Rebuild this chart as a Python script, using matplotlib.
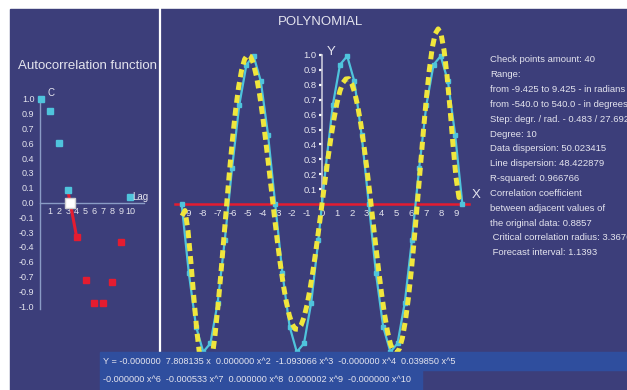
import matplotlib
matplotlib.use('Agg')
import matplotlib.pyplot as plt
from matplotlib.lines import Line2D
from matplotlib.patches import Rectangle
from matplotlib.ticker import FuncFormatter

plt.rcParams['font.family'] = ['Liberation Sans', 'DejaVu Sans']
plt.rcParams['axes.unicode_minus'] = False

# check points (x in radians) and the original data
pts_x = [-9.425, -8.942, -8.458, -7.975, -7.492, -7.008, -6.525, -6.042, -5.558, -5.075,
         -4.592, -4.108, -3.625, -3.142, -2.658, -2.175, -1.692, -1.208, -0.725, -0.242,
         0.242, 0.725, 1.208, 1.692, 2.175, 2.658, 3.142, 3.625, 4.108, 4.592,
         5.075, 5.558, 6.042, 6.525, 7.008, 7.492, 7.975, 8.458, 8.942, 9.425]
pts_y = [0.000, -0.465, -0.823, -0.993, -0.935, -0.663, -0.239, 0.239, 0.663, 0.935,
         0.993, 0.823, 0.465, 0.000, -0.465, -0.823, -0.993, -0.935, -0.663, -0.239,
         0.239, 0.663, 0.935, 0.993, 0.823, 0.465, 0.000, -0.465, -0.823, -0.993,
         -0.935, -0.663, -0.239, 0.239, 0.663, 0.935, 0.993, 0.823, 0.465, 0.000]

# polynomial line (degree 10)
fit_x = [-9.4, -9.2, -9.0, -8.8, -8.6, -8.4, -8.2, -8.0, -7.8, -7.6, -7.4, -7.2, -7.0, -6.8, -6.6, -6.4,
         -6.2, -6.0, -5.8, -5.6, -5.4, -5.2, -5.0, -4.8, -4.6, -4.4, -4.2, -4.0, -3.8, -3.6, -3.4, -3.2,
         -3.0, -2.8, -2.6, -2.4, -2.2, -2.0, -1.8, -1.6, -1.4, -1.2, -1.0, -0.8, -0.6, -0.4, -0.2, 0.0,
         0.2, 0.4, 0.6, 0.8, 1.0, 1.2, 1.4, 1.6, 1.8, 2.0, 2.2, 2.4, 2.6, 2.8, 3.0, 3.2,
         3.4, 3.6, 3.8, 4.0, 4.2, 4.4, 4.6, 4.8, 5.0, 5.2, 5.4, 5.6, 5.8, 6.0, 6.2, 6.4,
         6.6, 6.8, 7.0, 7.2, 7.4, 7.6, 7.8, 8.0, 8.2, 8.4, 8.6, 8.8, 9.0, 9.2, 9.4]
fit_y = [-0.080, -0.044, -0.178, -0.396, -0.637, -0.858, -1.030, -1.138, -1.175, -1.142, -1.045, -0.894,
         -0.700, -0.478, -0.240, 0.001, 0.233, 0.446, 0.632, 0.785, 0.898, 0.971, 1.001, 0.990,
         0.941, 0.856, 0.741, 0.601, 0.442, 0.272, 0.096, -0.080, -0.248, -0.403, -0.541, -0.656,
         -0.746, -0.807, -0.839, -0.841, -0.813, -0.757, -0.675, -0.569, -0.445, -0.305, -0.155, 0.000,
         0.155, 0.305, 0.445, 0.569, 0.675, 0.757, 0.813, 0.839, 0.841, 0.807, 0.746, 0.656,
         0.541, 0.403, 0.248, 0.080, -0.096, -0.272, -0.442, -0.601, -0.741, -0.856, -0.941, -0.990,
         -1.001, -0.971, -0.898, -0.785, -0.632, -0.446, -0.233, -0.001, 0.240, 0.478, 0.700, 0.894,
         1.045, 1.142, 1.175, 1.138, 1.030, 0.858, 0.637, 0.396, 0.178, 0.044, 0.080]

# autocorrelation function
lags = [0, 1, 2, 3, 4, 5, 6, 7, 8, 9, 10]
acf = [1.0, 0.886, 0.57, 0.124, -0.33, -0.747, -0.968, -0.972, -0.762, -0.38, 0.05]

info = ["Check points amount: 40",
        "Range:",
        "from -9.425 to 9.425 - in radians",
        "from -540.0 to 540.0 - in degrees",
        "Step: degr. / rad. - 0.483 / 27.692",
        "Degree: 10",
        "Data dispersion: 50.023415",
        "Line dispersion: 48.422879",
        "R-squared: 0.966766",
        "Correlation coefficient",
        "between adjacent values of",
        "the original data: 0.8857",
        " Critical correlation radius: 3.3676",
        " Forecast interval: 1.1393"]

formula = ["Y = -0.000000  7.808135 x  0.000000 x^2  -1.093066 x^3  -0.000000 x^4  0.039850 x^5",
           "-0.000000 x^6  -0.000533 x^7  0.000000 x^8  0.000002 x^9  -0.000000 x^10"]

BG = '#3c3e7a'
BOX = '#2f4e9e'
TXT = '#e4e4ee'
CYAN = '#4fc4dc'
YELLOW = '#f0e63c'
RED = '#e41c30'
AXC = '#8a9cc6'

W, H = 627, 390
fig = plt.figure(figsize=(W / 100, H / 100), dpi=100, facecolor='white')


def fx(px):
    return px / W


def fy(py):
    return 1 - py / H


def px_axes(x0, y0, x1, y1, ox, ux, oy, uy):
    ax = fig.add_axes([fx(x0), fy(y1), (x1 - x0) / W, (y1 - y0) / H])
    ax.set_xlim((x0 - ox) / ux, (x1 - ox) / ux)
    ax.set_ylim((oy - y1) / uy, (oy - y0) / uy)
    ax.set_facecolor('none')
    return ax


# background, divider and formula boxes
fig.add_artist(Rectangle((fx(10), 0), (W - 10) / W, fy(9), color=BG, zorder=-5,
                         transform=fig.transFigure))
fig.add_artist(Line2D([fx(160), fx(160)], [fy(9), fy(352)], color='white', lw=1.6,
                      transform=fig.transFigure, zorder=3))
fig.add_artist(Rectangle((fx(100), fy(370)), (W - 100) / W, 18 / H, color=BOX, zorder=5,
                         transform=fig.transFigure))
fig.add_artist(Rectangle((fx(100), 0), 322 / W, 20 / H, color=BOX, zorder=5,
                         transform=fig.transFigure))
fig.text(fx(103), fy(361), formula[0], color=TXT, fontsize=6.6, va='center', zorder=6)
fig.text(fx(103), fy(379), formula[1], color=TXT, fontsize=6.6, va='center', zorder=6)

# ---- polynomial chart
ax = px_axes(165, 9, 485, 390, 322, 14.89, 204, 149)
ax.plot(pts_x, pts_y, color=CYAN, lw=1.6, marker='s', ms=3.3, zorder=3)
ax.plot(fit_x, fit_y, color=YELLOW, lw=3.6, ls=(0, (1.6, 1.0)), zorder=4)

for s in ['top', 'right']:
    ax.spines[s].set_visible(False)
ax.spines['bottom'].set_position(('data', 0))
ax.spines['bottom'].set_bounds(-9.9, 9.9)
ax.spines['bottom'].set_color(RED)
ax.spines['bottom'].set_linewidth(1.8)
ax.spines['left'].set_position(('data', 0))
ax.spines['left'].set_bounds(0, 1.0)
ax.spines['left'].set_color('#c8c8d8')
ax.spines['left'].set_linewidth(1.2)
ax.set_xticks(range(-9, 10))
ax.set_yticks([i / 10 for i in range(1, 11)])
ax.yaxis.set_major_formatter(FuncFormatter(lambda v, p: '%.1f' % v))
ax.tick_params(axis='x', length=0, pad=3.5, labelsize=6.8, labelcolor=TXT)
ax.tick_params(axis='y', length=2.5, width=1.6, color='white', pad=1.5,
               labelsize=6.8, labelcolor=TXT)
ax.text(0.35, 1.02, 'Y', color=TXT, fontsize=9.5, va='center', ha='left')
ax.text(10.05, 0.06, 'X', color=TXT, fontsize=9.5, va='center', ha='left')
fig.text(fx(320.5), fy(22), 'POLYNOMIAL', color=TXT, fontsize=9.5, ha='center', va='center')

# ---- autocorrelation chart
ac = px_axes(10, 9, 158, 352, 41, 8.9, 202.5, 103.7)
for lag, v in zip(lags, acf):
    ac.plot([lag], [v], marker='s', ms=3.8, ls='none', color=CYAN if v >= 0 else RED,
            clip_on=False, zorder=3)
# sign change between lag 3 and lag 4
cross = lags[3] + acf[3] / (acf[3] - acf[4])
ac.plot(lags[3:5], acf[3:5], color=RED, lw=2.2, zorder=2)
ac.plot([cross], [0], marker='s', ms=6.5, color='white', mec='#d0d0d0', zorder=4)

for s in ['top', 'right']:
    ac.spines[s].set_visible(False)
ac.spines['bottom'].set_position(('data', 0))
ac.spines['bottom'].set_bounds(-0.1, 11.6)
ac.spines['left'].set_position(('data', -0.1))
ac.spines['left'].set_bounds(-1.03, 1.0)
for s in ['bottom', 'left']:
    ac.spines[s].set_color(AXC)
    ac.spines[s].set_linewidth(1.0)
ac.set_xticks(range(1, 11))
ac.set_yticks([k / 7 for k in range(-7, 8)])
ac.yaxis.set_major_formatter(FuncFormatter(lambda v, p: '%.1f' % v))
ac.tick_params(axis='x', length=0, pad=3.5, labelsize=6.5, labelcolor=TXT)
ac.tick_params(axis='y', length=0, pad=4, labelsize=6.5, labelcolor=TXT)
ac.text(1.1, 1.06, 'C', color=TXT, fontsize=7, va='center', ha='center')
ac.text(10.2, 0.055, 'Lag', color=TXT, fontsize=7, va='center', ha='left')
fig.text(fx(18), fy(66), 'Autocorrelation function', color=TXT, fontsize=9.5, va='center')

# ---- info text
for i, line in enumerate(info):
    fig.text(fx(490.5), fy(60 + i * 14.82), line, color=TXT, fontsize=6.8, va='center')

fig.savefig('out.png', dpi=100, facecolor='white')
